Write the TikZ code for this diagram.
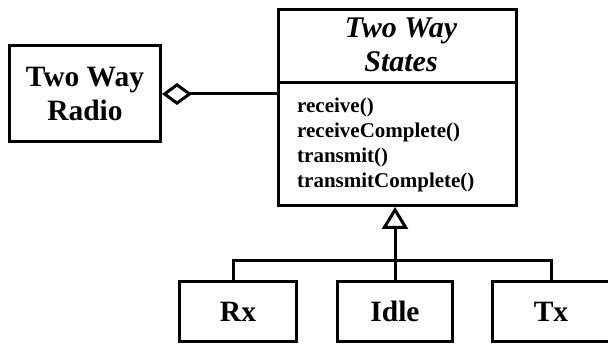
\documentclass[tikz,border=0pt]{standalone}
\usepackage{fontspec}
\setmainfont{Liberation Serif}
\usetikzlibrary{arrows.meta}
\begin{document}
\begin{tikzpicture}[x=1pt,y=-1pt,
  umlbox/.style={draw=black, line width=3pt, fill=white, inner sep=0pt, align=center},
  boxlabel/.style={font=\fontsize{29.5}{34}\selectfont\bfseries},
  link/.style={draw=black, line width=3pt, line join=miter}]
\useasboundingbox (0,0) rectangle (608,344);

% context class
\node[umlbox, boxlabel, minimum width=151pt, minimum height=96pt] (radio) at (85,94) {Two Way\\Radio};

% abstract state class with its operations
\node[umlbox, minimum width=238pt, minimum height=196pt] (states) at (397.5,107.5) {};
\draw[line width=3pt] (states.west |- 0,83) -- (states.east |- 0,83);
\node[font=\fontsize{30}{34}\selectfont\bfseries\itshape, align=center] (title) at (401,45) {Two Way\\States};
\node[font=\fontsize{21}{25.3}\selectfont\bfseries, align=left, anchor=west, inner sep=0pt] (ops) at (297,145)
  {receive()\\receiveComplete()\\transmit()\\transmitComplete()};

% concrete states
\node[umlbox, boxlabel, minimum width=117pt, minimum height=60pt] (rx) at (238,311.5) {Rx};
\node[umlbox, boxlabel, minimum width=115pt, minimum height=60pt] (idle) at (395,311.5) {Idle};
\node[umlbox, boxlabel, minimum width=117pt, minimum height=60pt] (tx) at (551,311.5) {Tx};

% aggregation
\draw[link, {Diamond[open, length=30pt, width=22pt, line width=3pt]}-] (radio.east) -- (states.west |- radio.east);

% generalization
\coordinate (join) at (395,261);
\draw[link, -{Triangle[open, length=22pt, width=26pt, line width=3pt]}] (idle.north) -- (idle.north |- states.south);
\draw[link] ([xshift=-5pt]rx.north) |- (join) -| (tx.north);
\end{tikzpicture}
\end{document}
